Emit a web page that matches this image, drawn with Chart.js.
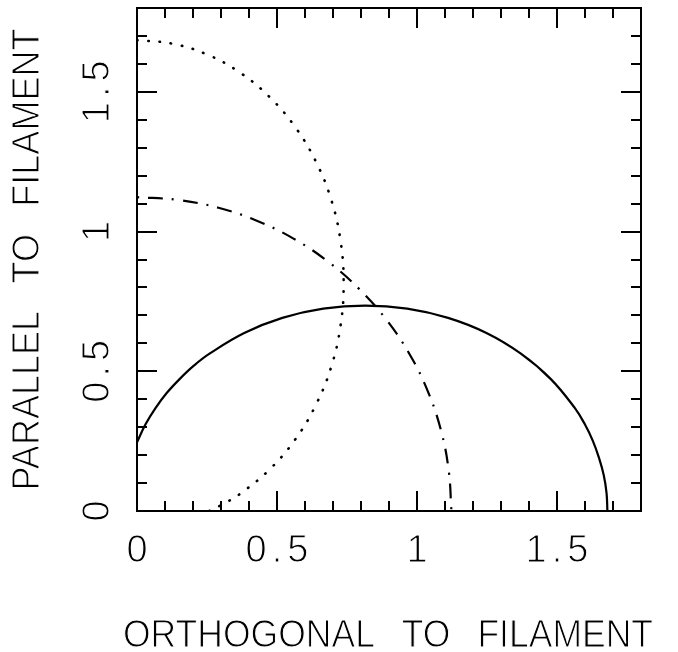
<!DOCTYPE html>
<html>
<head>
<meta charset="utf-8">
<script src="https://cdn.jsdelivr.net/npm/chart.js@4/dist/chart.umd.min.js"></script>
<style>
  html, body { margin: 0; padding: 0; background: #ffffff; }
  #wrap { width: 678px; height: 652px; }
</style>
</head>
<body>
<div id="wrap"><canvas id="c" width="678" height="652"></canvas></div>
<script>
// ---- data ----
const xTitle = 'ORTHOGONAL TO FILAMENT';
const yTitle = 'PARALLEL TO FILAMENT';
const xTickValues = [0, 0.5, 1, 1.5];
const yTickValues = [0, 0.5, 1, 1.5];
const axisMin = 0;
const axisMax = 1.8;
const minorStep = 0.1;

// solid curve
const solidX = [0.000, 0.031, 0.066, 0.106, 0.152, 0.203, 0.259, 0.383, 0.519, 0.665, 0.815, 0.965, 1.111, 1.248, 1.371, 1.478, 1.564, 1.599, 1.628, 1.650, 1.667, 1.677, 1.680];
const solidY = [0.246, 0.311, 0.368, 0.422, 0.472, 0.520, 0.563, 0.637, 0.691, 0.724, 0.735, 0.724, 0.691, 0.637, 0.563, 0.472, 0.368, 0.311, 0.251, 0.190, 0.128, 0.064, 0.000];

// dotted curve
const dottedX = [0.000, 0.128, 0.252, 0.369, 0.474, 0.565, 0.639, 0.694, 0.727, 0.738, 0.727, 0.694, 0.639, 0.565, 0.474, 0.369, 0.312, 0.258];
const dottedY = [1.685, 1.672, 1.633, 1.568, 1.481, 1.374, 1.250, 1.113, 0.966, 0.815, 0.664, 0.517, 0.380, 0.256, 0.149, 0.062, 0.027, 0.000];

// dash-dot curve
const dashDotX = [0.000, 0.147, 0.291, 0.430, 0.562, 0.684, 0.794, 0.891, 0.973, 1.038, 1.085, 1.113, 1.123];
const dashDotY = [1.123, 1.113, 1.085, 1.038, 0.973, 0.891, 0.794, 0.684, 0.562, 0.430, 0.291, 0.147, 0.000];

const FONT = '"Liberation Sans", Arial, Helvetica, sans-serif';

function pts(xs, ys) { return xs.map((x, i) => ({ x: x, y: ys[i] })); }

function fmt(v) { return String(v); }

// draws real text, then trims the glyph edges slightly so strokes look thin like the reference
function thinText(ctx, text, x, y, maxWidth) {
  if (maxWidth) ctx.fillText(text, x, y, maxWidth); else ctx.fillText(text, x, y);
  ctx.save();
  ctx.strokeStyle = '#ffffff';
  ctx.lineWidth = 1.1;
  ctx.lineJoin = 'round';
  if (maxWidth) ctx.strokeText(text, x, y, maxWidth); else ctx.strokeText(text, x, y);
  ctx.restore();
}

const frame = {
  id: 'frame',
  beforeDraw(chart) {
    const ctx = chart.ctx;
    ctx.save();
    ctx.fillStyle = '#ffffff';
    ctx.fillRect(0, 0, chart.width, chart.height);
    ctx.restore();
  },
  afterDraw(chart) {
    const ctx = chart.ctx;
    const a = chart.chartArea;
    const xs = chart.scales.x, ys = chart.scales.y;
    ctx.save();
    ctx.strokeStyle = '#000';
    ctx.lineWidth = 2;
    ctx.lineCap = 'butt';
    const n = Math.round((axisMax - axisMin) / minorStep);
    ctx.beginPath();
    for (let i = 0; i <= n; i++) {
      const v = axisMin + i * minorStep;
      const major = Math.abs(v * 2 - Math.round(v * 2)) < 1e-6;
      const len = major ? 20 : 10;
      const px = Math.round(xs.getPixelForValue(v));
      const py = Math.round(ys.getPixelForValue(v));
      ctx.moveTo(px, a.bottom); ctx.lineTo(px, a.bottom - len);
      ctx.moveTo(px, a.top); ctx.lineTo(px, a.top + len);
      ctx.moveTo(a.left, py); ctx.lineTo(a.left + len, py);
      ctx.moveTo(a.right, py); ctx.lineTo(a.right - len, py);
    }
    ctx.stroke();
    ctx.strokeRect(a.left, a.top, a.right - a.left, a.bottom - a.top);

    ctx.fillStyle = '#000';
    ctx.textAlign = 'center';
    ctx.textBaseline = 'alphabetic';

    // tick labels
    const sp = 5;
    ctx.font = '38px ' + FONT;
    ctx.letterSpacing = sp + 'px';
    xTickValues.forEach(v => {
      const px = xs.getPixelForValue(v);
      thinText(ctx, fmt(v), px + sp / 2, 562);
    });
    yTickValues.forEach(v => {
      const py = ys.getPixelForValue(v);
      ctx.save();
      ctx.translate(109, py);
      ctx.rotate(-Math.PI / 2);
      thinText(ctx, fmt(v), sp / 2, 0);
      ctx.restore();
    });

    // axis titles
    const cx = (a.left + a.right) / 2;
    const cy = (a.top + a.bottom) / 2;
    ctx.letterSpacing = '0px';
    ctx.wordSpacing = '19px';
    ctx.font = '39.5px ' + FONT;
    thinText(ctx, xTitle, cx - 1, 647, 530);
    ctx.save();
    ctx.translate(39, cy);
    ctx.rotate(-Math.PI / 2);
    thinText(ctx, yTitle, 0, 0, 462);
    ctx.restore();
    ctx.wordSpacing = '0px';
    ctx.restore();
  }
};

new Chart(document.getElementById('c'), {
  type: 'scatter',
  data: {
    datasets: [
      { label: 'solid', data: pts(solidX, solidY), showLine: true, borderColor: '#000', borderWidth: 2.2, pointRadius: 0, tension: 0.4, fill: false },
      { label: 'dotted', data: pts(dottedX, dottedY), showLine: true, borderColor: '#000', borderWidth: 2.6, borderDash: [0.5, 10.8], borderCapStyle: 'round', pointRadius: 0, tension: 0.4, fill: false },
      { label: 'dash-dot', data: pts(dashDotX, dashDotY), showLine: true, borderColor: '#000', borderWidth: 2.2, borderDash: [15, 9, 2, 9], borderDashOffset: 24, borderCapStyle: 'butt', pointRadius: 0, tension: 0.4, fill: false }
    ]
  },
  options: {
    responsive: false,
    animation: false,
    devicePixelRatio: 1,
    layout: { padding: { top: 8, right: 37, left: 0, bottom: 0 } },
    plugins: { legend: { display: false }, tooltip: { enabled: false } },
    scales: {
      x: {
        type: 'linear', position: 'bottom', min: axisMin, max: axisMax,
        grid: { display: false }, border: { display: false },
        afterBuildTicks: s => { s.ticks = xTickValues.map(v => ({ value: v })); },
        afterFit: s => { s.height = 141; },
        ticks: { display: false },
        title: { display: false, text: xTitle }
      },
      y: {
        type: 'linear', position: 'left', min: axisMin, max: axisMax,
        grid: { display: false }, border: { display: false },
        afterBuildTicks: s => { s.ticks = yTickValues.map(v => ({ value: v })); },
        afterFit: s => { s.width = 137; },
        ticks: { display: false },
        title: { display: false, text: yTitle }
      }
    }
  },
  plugins: [frame]
});
</script>
</body>
</html>
